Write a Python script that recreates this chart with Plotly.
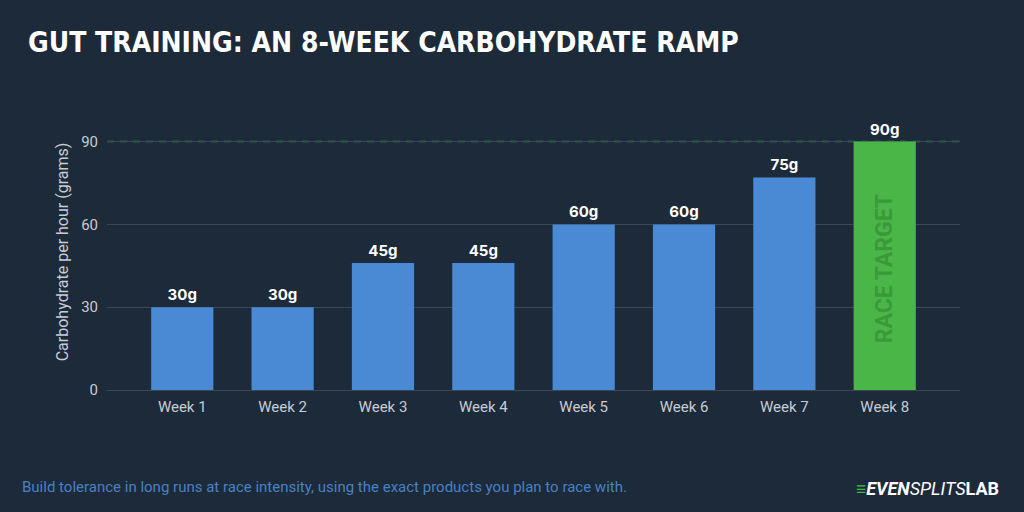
import plotly.graph_objects as go

weeks = ["Week 1", "Week 2", "Week 3", "Week 4", "Week 5", "Week 6", "Week 7", "Week 8"]
carbs = [30, 30, 46, 46, 60, 60, 77, 90]
labels = ["30g", "30g", "45g", "45g", "60g", "60g", "75g", "90g"]
target = 90
y_ticks = [0, 30, 60, 90]

BG = "#1c2a3a"
BLUE = "#4a89d4"
GREEN = "#4bb648"
colors = [BLUE] * 7 + [GREEN]

L, R, T, B = 107, 64, 114, 122
W, H = 1024, 512
PW, PH = W - L - R, H - T - B


def px(x):
    return (x - L) / PW


def py(y):
    return (H - B - y) / PH


fig = go.Figure()
fig.add_trace(go.Bar(
    x=weeks, y=carbs, marker=dict(color=colors, line=dict(width=0)),
    width=0.62, text=labels, textposition="outside", cliponaxis=False,
    textfont=dict(family="Inter", size=15, color="#ffffff", weight="bold"),
    hoverinfo="skip",
))

fig.add_shape(type="line", xref="paper", x0=0, x1=1, yref="y", y0=target, y1=target,
              line=dict(color="#3f9443", width=1.5, dash="7px,6px"), layer="below")

fig.add_annotation(x=weeks[-1], y=44, xref="x", yref="y", text="<b>RACE TARGET</b>",
                   textangle=-90, showarrow=False,
                   font=dict(family="Roboto", size=23, color="#3a9a3a"))

fig.add_annotation(x=px(26), y=py(43), xref="paper", yref="paper", xanchor="left", yanchor="middle",
                   text="<b>GUT TRAINING: AN 8-WEEK CARBOHYDRATE RAMP</b>", showarrow=False,
                   font=dict(family="DejaVu Sans Condensed", size=28, color="#ffffff"))

fig.add_annotation(x=px(20), y=py(487), xref="paper", yref="paper", xanchor="left", yanchor="middle",
                   text="Build tolerance in long runs at race intensity, using the exact products you plan to race with.",
                   showarrow=False, font=dict(family="Roboto", size=15, color="#4a80c4"))

fig.add_annotation(x=px(1001), y=py(488), xref="paper", yref="paper", xanchor="right", yanchor="middle",
                   text="<span style='color:#4bb648'><b>≡</b></span><b><i>EVEN</i></b><i>SPLITS</i><b>LAB</b>",
                   showarrow=False, font=dict(family="Roboto", size=18, color="#ffffff"))

fig.update_layout(
    width=W, height=H,
    paper_bgcolor=BG, plot_bgcolor=BG,
    margin=dict(l=L, r=R, t=T, b=B),
    showlegend=False,
    xaxis=dict(range=[-0.75, 7.75], showgrid=False, zeroline=False, showline=False,
               tickfont=dict(family="Roboto", size=15, color="#c8ccd2"), ticks="", ticklabelstandoff=6),
    yaxis=dict(range=[0, 100], tickvals=y_ticks, showgrid=True, gridcolor="#3a4858", gridwidth=1,
               zeroline=True, zerolinecolor="#3a4858", zerolinewidth=1, showline=False,
               tickfont=dict(family="Roboto", size=15, color="#c8ccd2"), ticks="", ticklabelstandoff=8,
               title=dict(text="Carbohydrate per hour (grams)", standoff=8,
                          font=dict(family="Roboto", size=16, color="#c8ccd2"))),
)

fig.write_html("out.html")
